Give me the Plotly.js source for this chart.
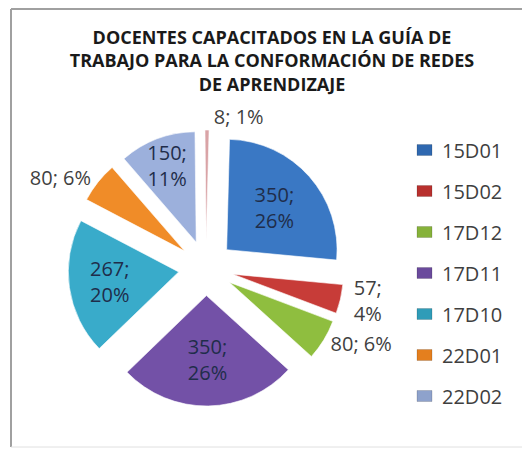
<!DOCTYPE html>
<html><head><meta charset="utf-8">
<script src="https://cdn.plot.ly/plotly-3.0.1.min.js"></script>
<style>html,body{margin:0;padding:0;background:#fff;}#chart{width:522px;height:449px;}</style>
</head><body><div id="chart"></div>
<script>
// ---- data ----
const labels = ['15D01','15D02','17D12','17D11','17D10','22D01','22D02','Otros'];
const values = [350, 57, 80, 350, 267, 80, 150, 8];
const legendLabels = ['15D01','15D02','17D12','17D11','17D10','22D01','22D02'];
const titleText = '<b>DOCENTES CAPACITADOS EN LA GUÍA DE<br>TRABAJO PARA LA CONFORMACIÓN DE REDES<br>DE APRENDIZAJE</b>';

// ---- styles ----
const colors = ['#3a78c4','#c73c38','#8fbe3f','#7351a7','#39abca','#f08c28','#9cb0dc','#d9a3a6'];
const legendColors = ['#2f68b0','#b8302e','#86b23a','#6a4a9c','#2f9cb8','#e47f1e','#8ea2cc'];
const W = 522, H = 449;
const px = x => x / W, py = y => 1 - y / H;
const t2 = '%{value};<br>%{percent:.0%}', t1 = '%{value}; %{percent:.0%}';
const texttemplates = [t2, t2, t1, t2, t2, t1, t2, t1];
const positions = ['inside','outside','outside','inside','inside','outside','inside','outside'];
const FONT = 'Open Sans, sans-serif';

const trace = {
  type: 'pie',
  labels: labels,
  values: values,
  sort: false,
  direction: 'clockwise',
  rotation: 1.5,
  pull: values.map(() => 0.25),
  marker: {colors: colors, line: {color: 'rgba(255,255,255,0.6)', width: 1}},
  texttemplate: texttemplates,
  textposition: positions,
  insidetextorientation: 'horizontal',
  insidetextfont: {family: FONT, size: 20, color: '#1f2d4a'},
  outsidetextfont: {family: FONT, size: 20, color: '#3f3f3f'},
  domain: {x: [px(68), px(344)], y: [py(406), py(130)]},
  showlegend: false,
  hoverinfo: 'label+value+percent'
};

const shapes = [
  {type: 'line', xref: 'paper', yref: 'paper', x0: px(11), x1: px(11), y0: py(9), y1: py(447), line: {color: '#a0a0a0', width: 2}},
  {type: 'line', xref: 'paper', yref: 'paper', x0: px(11), x1: 1.01, y0: py(9), y1: py(9), line: {color: '#a0a0a0', width: 2}},
  {type: 'line', xref: 'paper', yref: 'paper', x0: px(11), x1: 1.01, y0: py(447), y1: py(447), line: {color: '#e0e0e0', width: 1}}
];
const annotations = [];
legendLabels.forEach((lab, i) => {
  const yc = 150.5 + i * 41;
  shapes.push({type: 'rect', xref: 'paper', yref: 'paper',
    x0: px(417), x1: px(432), y0: py(yc + 5), y1: py(yc - 6),
    fillcolor: legendColors[i], line: {color: 'rgba(0,0,0,0.15)', width: 1}});
  annotations.push({xref: 'paper', yref: 'paper', x: px(440), y: py(yc), xanchor: 'left', yanchor: 'middle',
    text: lab, showarrow: false, font: {family: FONT, size: 20, color: '#3f3f3f'}});
});

const layout = {
  width: W, height: H,
  margin: {l: 0, r: 0, t: 0, b: 0},
  paper_bgcolor: '#ffffff',
  title: {text: titleText, x: px(272), xanchor: 'center', xref: 'paper', y: 1 - 44 / H, yanchor: 'top', yref: 'container',
    font: {family: FONT, size: 18, color: '#1a1a1a'}},
  uniformtext: {minsize: 20, mode: 'show'},
  shapes: shapes,
  annotations: annotations,
  showlegend: false
};

Plotly.newPlot('chart', [trace], layout, {displayModeBar: false, staticPlot: true});
</script></body></html>
